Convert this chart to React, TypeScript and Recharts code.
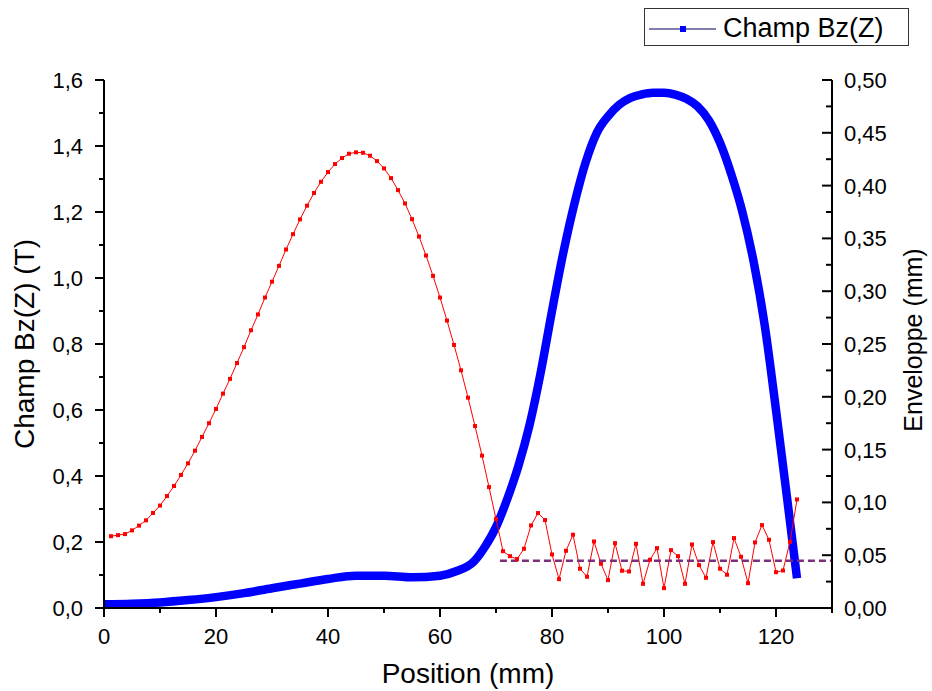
import { LineChart, Line, XAxis, YAxis } from "recharts";

// Champ Bz(Z) (T), axe gauche
const champX = [0, 5, 10, 15, 20, 25, 30, 35, 40, 45, 50, 55, 60, 63, 66, 68, 70, 72, 74, 76, 78, 80, 82, 84, 86, 88, 90, 92, 94, 96, 98, 100, 102, 104, 106, 108, 110, 112, 114, 116, 118, 120, 122, 123.75];
const champBz = [0.011, 0.013, 0.017, 0.024, 0.033, 0.045, 0.06, 0.074, 0.088, 0.098, 0.098, 0.093, 0.098, 0.112, 0.14, 0.185, 0.245, 0.33, 0.43, 0.555, 0.715, 0.9, 1.075, 1.225, 1.35, 1.44, 1.49, 1.525, 1.546, 1.556, 1.561, 1.561, 1.556, 1.543, 1.52, 1.478, 1.41, 1.315, 1.2, 1.05, 0.855, 0.6, 0.33, 0.09];

// Enveloppe (mm), axe droit
const envX = [
  1.25, 2.5, 3.75, 5, 6.25, 7.5, 8.75, 10, 11.25, 12.5, 13.75, 15, 16.25, 17.5, 18.75, 20, 21.25, 22.5, 23.75, 25,
  26.25, 27.5, 28.75, 30, 31.25, 32.5, 33.75, 35, 36.25, 37.5, 38.75, 40, 41.25, 42.5, 43.75, 45, 46.25, 47.5, 48.75, 50,
  51.25, 52.5, 53.75, 55, 56.25, 57.5, 58.75, 60, 61.25, 62.5, 63.75, 65, 66.25, 67.5, 68.75, 70, 71.25, 72.5, 73.75, 75,
  76.25, 77.5, 78.75, 80, 81.25, 82.5, 83.75, 85, 86.25, 87.5, 88.75, 90, 91.25, 92.5, 93.75, 95, 96.25, 97.5, 98.75, 100,
  101.25, 102.5, 103.75, 105, 106.25, 107.5, 108.75, 110, 111.25, 112.5, 113.75, 115, 116.25, 117.5, 118.75, 120, 121.25, 122.5, 123.75,
];
const enveloppe = [
  0.068, 0.069, 0.07, 0.0735, 0.078, 0.083, 0.09, 0.097, 0.106, 0.1155, 0.126, 0.137, 0.149, 0.162, 0.175, 0.1885, 0.203, 0.217, 0.232, 0.247,
  0.263, 0.278, 0.294, 0.309, 0.324, 0.3395, 0.354, 0.368, 0.381, 0.393, 0.4036, 0.4128, 0.4204, 0.4261, 0.4302, 0.4315, 0.4311, 0.4283, 0.4232, 0.4163,
  0.4071, 0.3957, 0.3831, 0.3682, 0.3518, 0.3338, 0.3145, 0.294, 0.2722, 0.2491, 0.2251, 0.1992, 0.1723, 0.1443, 0.1145, 0.0842, 0.0538, 0.0491, 0.0463, 0.0561,
  0.0782, 0.0899, 0.0833, 0.0507, 0.0273, 0.0542, 0.0694, 0.0372, 0.0296, 0.063, 0.0419, 0.0264, 0.0614, 0.0353, 0.0346, 0.0608, 0.0229, 0.0457, 0.0567, 0.0188,
  0.0548, 0.0491, 0.0229, 0.0602, 0.0406, 0.0286, 0.0624, 0.0372, 0.0315, 0.0662, 0.0485, 0.0235, 0.0621, 0.0785, 0.0646, 0.0339, 0.0355, 0.0627, 0.1028,
];

// moyenne (pointillés)
const moyX = [70.7, 130];
const moyenne = [0.0447, 0.0447];

const xTicks = [0, 10, 20, 30, 40, 50, 60, 70, 80, 90, 100, 110, 120, 130];
const leftTicks = [0, 0.1, 0.2, 0.3, 0.4, 0.5, 0.6, 0.7, 0.8, 0.9, 1.0, 1.1, 1.2, 1.3, 1.4, 1.5, 1.6];
const rightTicks = [0, 0.025, 0.05, 0.075, 0.1, 0.125, 0.15, 0.175, 0.2, 0.225, 0.25, 0.275, 0.3, 0.325, 0.35, 0.375, 0.4, 0.425, 0.45, 0.475, 0.5];

const champData = champX.map((x, i) => ({ x, y: champBz[i] }));
const envData = envX.map((x, i) => ({ x, y: enveloppe[i] }));
const moyData = moyX.map((x, i) => ({ x, y: moyenne[i] }));

const FONT = '"Liberation Sans", Arial, sans-serif';

const XTick = (props: any) => {
  const { x, y, payload } = props;
  const v = payload.value;
  const major = v % 20 === 0;
  return (
    <g>
      <line x1={x} x2={x} y1={y} y2={y + (major ? 9 : 5)} stroke="#000" strokeWidth={2} />
      {major && (
        <text x={x} y={y + 36} textAnchor="middle" fontSize={22} fontFamily={FONT} fill="#000">
          {v}
        </text>
      )}
    </g>
  );
};

const LeftTick = (props: any) => {
  const { x, y, payload } = props;
  const v = payload.value;
  const major = Math.round(v * 10) % 2 === 0;
  return (
    <g>
      <line x1={x} x2={x - (major ? 9 : 5)} y1={y} y2={y} stroke="#000" strokeWidth={2} />
      {major && (
        <text x={x - 21} y={y + 8} textAnchor="end" fontSize={22} fontFamily={FONT} fill="#000">
          {v.toFixed(1).replace(".", ",")}
        </text>
      )}
    </g>
  );
};

const RightTick = (props: any) => {
  const { x, y, payload } = props;
  const v = payload.value;
  const major = Math.round(v * 1000) % 50 === 0;
  return (
    <g>
      <line x1={x} x2={x - (major ? 10 : 6)} y1={y} y2={y} stroke="#000" strokeWidth={2} />
      {major && (
        <text x={x + 12} y={y + 8} textAnchor="start" fontSize={22} fontFamily={FONT} fill="#000">
          {v.toFixed(2).replace(".", ",")}
        </text>
      )}
    </g>
  );
};

const RedSquare = (props: any) => {
  const { cx, cy, index } = props;
  if (cx == null || cy == null) return <g key={index} />;
  return <rect key={index} x={cx - 2} y={cy - 2} width={4} height={4} fill="#ff0000" />;
};

export default function App() {
  return (
    <div style={{ position: "absolute", left: 0, top: 0, width: 932, height: 691, background: "#fff", fontFamily: FONT }}>
      <LineChart width={932} height={691} margin={{ top: 80, right: 0, bottom: 0, left: 0 }}>
        <XAxis
          dataKey="x"
          type="number"
          domain={[0, 130]}
          ticks={xTicks}
          interval={0}
          allowDataOverflow
          height={83}
          axisLine={{ stroke: "#000", strokeWidth: 2 }}
          tickLine={false}
          tickSize={0}
          tickMargin={0}
          tick={<XTick />}
          label={{
            content: (p: any) => {
              const vb = p.viewBox;
              return (
                <text x={vb.x + vb.width / 2} y={vb.y + 75} textAnchor="middle" fontSize={28} fontFamily={FONT} fill="#000">
                  Position (mm)
                </text>
              );
            },
          }}
        />
        <YAxis
          yAxisId="left"
          type="number"
          domain={[0, 1.6]}
          ticks={leftTicks}
          interval={0}
          width={104}
          axisLine={{ stroke: "#000", strokeWidth: 2 }}
          tickLine={false}
          tickSize={0}
          tickMargin={0}
          tick={<LeftTick />}
          label={{
            content: () => (
              <text x={34} y={344} transform="rotate(-90, 34, 344)" textAnchor="middle" fontSize={28} fontFamily={FONT} fill="#000">
                Champ Bz(Z) (T)
              </text>
            ),
          }}
        />
        <YAxis
          yAxisId="right"
          orientation="right"
          type="number"
          domain={[0, 0.5]}
          ticks={rightTicks}
          interval={0}
          width={100}
          axisLine={{ stroke: "#000", strokeWidth: 2 }}
          tickLine={false}
          tickSize={0}
          tickMargin={0}
          tick={<RightTick />}
          label={{
            content: () => (
              <text x={922} y={340} transform="rotate(-90, 922, 340)" textAnchor="middle" fontSize={25} fontFamily={FONT} fill="#000">
                Enveloppe (mm)
              </text>
            ),
          }}
        />
        <Line
          yAxisId="left"
          data={champData}
          dataKey="y"
          type="monotone"
          stroke="#0000ff"
          strokeWidth={8.5}
          dot={false}
          isAnimationActive={false}
        />
        <Line
          yAxisId="right"
          data={envData}
          dataKey="y"
          type="linear"
          stroke="#ff0000"
          strokeWidth={1}
          dot={<RedSquare />}
          isAnimationActive={false}
        />
        <Line
          yAxisId="right"
          data={moyData}
          dataKey="y"
          type="linear"
          stroke="#7a2f7a"
          strokeWidth={2.5}
          strokeDasharray="7 4"
          dot={false}
          isAnimationActive={false}
        />
      </LineChart>
      <div
        style={{
          position: "absolute",
          left: 644,
          top: 8,
          width: 265,
          height: 38,
          boxSizing: "border-box",
          border: "1px solid #333",
          background: "#fff",
          display: "flex",
          alignItems: "center",
        }}
      >
        <svg width={78} height={36} style={{ flex: "none" }}>
          <line x1={4} x2={71} y1={20} y2={20} stroke="#000060" strokeWidth={1} />
          <rect x={35} y={17} width={6} height={6} fill="#0000ff" />
        </svg>
        <span style={{ fontSize: 27, color: "#000", lineHeight: "36px", marginTop: 2 }}>Champ Bz(Z)</span>
      </div>
    </div>
  );
}
